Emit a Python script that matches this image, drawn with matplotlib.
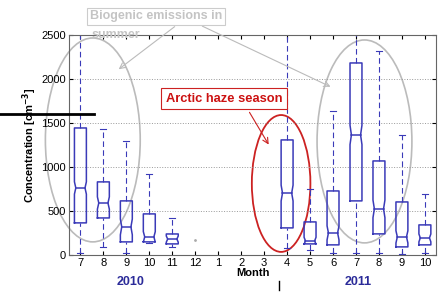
import matplotlib.pyplot as plt
from matplotlib.patches import Ellipse

plt.rcParams['font.family'] = ['Liberation Sans', 'DejaVu Sans']

# tick labels (month) and box stats
months = ['7', '8', '9', '10', '11', '12', '1', '2', '3', '4', '5', '6', '7', '8', '9', '10']
box_pos = [1, 2, 3, 4, 5, 10, 11, 12, 13, 14, 15, 16]
q1 = [364, 420, 148, 148, 125, 307, 125, 114, 614, 239, 91, 114]
med = [761, 590, 318, 205, 180, 703, 160, 250, 1364, 523, 205, 193]
q3 = [1443, 830, 614, 466, 238, 1307, 375, 727, 2182, 1068, 602, 341]
wlo = [25, 90, 23, 140, 90, 80, 57, 25, 25, 25, 10, 25]
whi = [2600, 1430, 1300, 920, 420, 2600, 750, 1636, 2600, 2318, 1364, 693]
# notch half height
notch = [70, 70, 90, 60, 35, 90, 40, 80, 110, 100, 70, 45]
single_pos = [6]
single_val = [170]

blue = '#3a3ab8'
w = 0.52   # box width
d = 0.06   # notch depth
cw = 0.13  # half cap width

fig = plt.figure(figsize=(4.39, 2.94), dpi=100)
ax = fig.add_axes([0.157, 0.133, 0.837, 0.748])

for i in range(len(box_pos)):
    x = box_pos[i]
    lo = med[i] - notch[i]
    hi = med[i] + notch[i]
    l, r = x - w / 2, x + w / 2
    xs = [l, l, l + d, l, l, r, r, r - d, r, r, l]
    ys = [q1[i], lo, med[i], hi, q3[i], q3[i], hi, med[i], lo, q1[i], q1[i]]
    ax.plot(xs, ys, color=blue, lw=1.1)
    ax.plot([l + d, r - d], [med[i], med[i]], color=blue, lw=1.1)
    # whiskers
    ax.plot([x, x], [q3[i], whi[i]], color=blue, lw=0.8, ls=(0, (5, 3)))
    ax.plot([x, x], [wlo[i], q1[i]], color=blue, lw=0.8, ls=(0, (5, 3)))
    ax.plot([x - cw, x + cw], [whi[i], whi[i]], color=blue, lw=0.8)
    ax.plot([x - cw, x + cw], [wlo[i], wlo[i]], color=blue, lw=0.8)
ax.plot(single_pos, single_val, '.', color='#aaaaaa', ms=2)

ax.set_xlim(0.5, 16.5)
ax.set_ylim(0, 2500)
ax.set_xticks(range(1, 17))
ax.set_xticklabels(months)
ax.set_yticks([0, 500, 1000, 1500, 2000, 2500])
ax.tick_params(labelsize=8, direction='in', top=True, right=True, length=3, pad=2)
ax.grid(axis='y', ls=':', color='#999999', lw=0.7)
for s in ax.spines.values():
    s.set_color('#666666')
ax.set_ylabel('Concentration [cm$^{\\mathbf{-3}}$]', fontsize=8, fontweight='bold', labelpad=2)
ax.set_xlabel('Month', fontsize=8, fontweight='bold', labelpad=0)

# ellipses
ax.add_patch(Ellipse((1.54, 1307), 4.13, 2318, fill=False, ec='#bbbbbb', lw=1.2, clip_on=False))
ax.add_patch(Ellipse((13.37, 1290), 4.13, 2307, fill=False, ec='#bbbbbb', lw=1.2, clip_on=False))
ax.add_patch(Ellipse((9.74, 812), 2.55, 1556, fill=False, ec='#cc2222', lw=1.3, clip_on=False))

# text boxes
fig.text(0.205, 0.965, 'Biogenic emissions in', fontsize=9, fontweight='bold',
         color='#c4c4c4', ha='left', va='top',
         bbox=dict(boxstyle='square,pad=0.22', fc='white', ec='#cccccc', lw=0.8))
fig.text(0.208, 0.902, 'summer', fontsize=9, fontweight='bold',
         color='#c4c4c4', ha='left', va='top', zorder=5)
ax.text(7.26, 1773, 'Arctic haze season', fontsize=9.3, fontweight='bold', color='#cc1111',
        ha='center', va='center',
        bbox=dict(boxstyle='square,pad=0.35', fc='white', ec='#cc2222', lw=0.8))

# arrows
ax.annotate('', xy=(2.57, 2091), xytext=(5.2, 2614), annotation_clip=False,
            arrowprops=dict(arrowstyle='->', color='#bbbbbb', lw=0.8))
ax.annotate('', xy=(12.0, 1898), xytext=(6.2, 2614), annotation_clip=False,
            arrowprops=dict(arrowstyle='->', color='#bbbbbb', lw=0.8))
ax.annotate('', xy=(9.26, 1227), xytext=(8.3, 1648), annotation_clip=False,
            arrowprops=dict(arrowstyle='->', color='#cc2222', lw=0.8))

# year labels
fig.text(0.297, 0.03, '2010', fontsize=9, fontweight='bold', color='#2b2b99', ha='center')
fig.text(0.815, 0.03, '2011', fontsize=9, fontweight='bold', color='#2b2b99', ha='center')

# stray lines
fig.add_artist(plt.Line2D([0, 0.215], [0.612, 0.612], color='black', lw=2))
fig.add_artist(plt.Line2D([0.636, 0.636], [0.015, 0.045], color='black', lw=1))

fig.savefig('out.png', dpi=100)
